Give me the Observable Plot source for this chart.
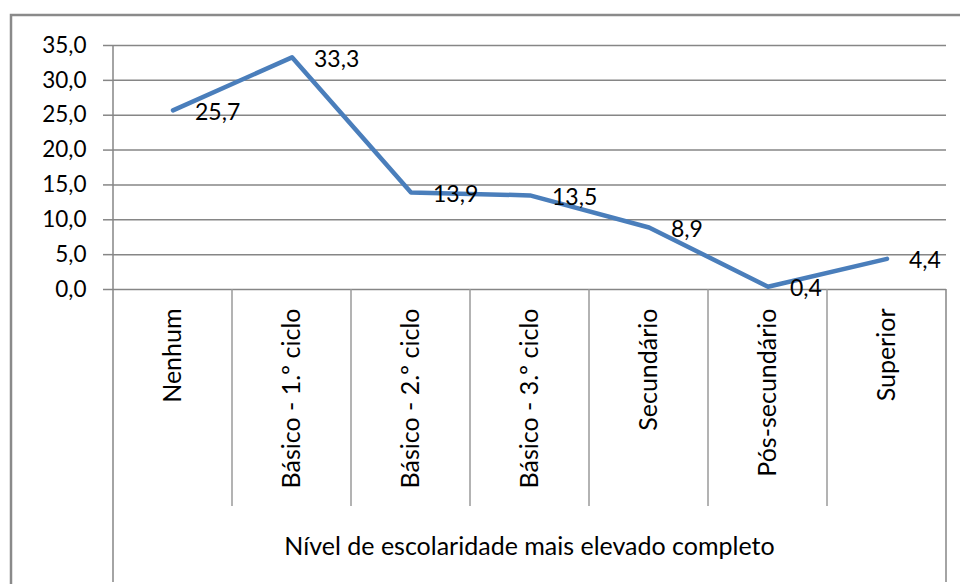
<!DOCTYPE html>
<html><head><meta charset="utf-8">
<script src="https://cdn.jsdelivr.net/npm/d3@7"></script>
<script src="https://cdn.jsdelivr.net/npm/@observablehq/plot@0.6"></script>
<style>
html,body{margin:0;padding:0;background:#fff;}
#chart{width:960px;height:584px;overflow:hidden;position:relative}
</style></head><body><div id="chart"></div>
<script>
const categories = ["Nenhum","Básico - 1.º ciclo","Básico - 2.º ciclo","Básico - 3.º ciclo","Secundário","Pós-secundário","Superior"];
const values = [25.7,33.3,13.9,13.5,8.9,0.4,4.4];
const yTicks = [0,5,10,15,20,25,30,35];
const xTitle = "Nível de escolaridade mais elevado completo";

const data = categories.map((c,i)=>({c, v: values[i]}));
const fmt = v => v.toFixed(1).replace(".", ",");
const FONT = "Lato, sans-serif";
const GRID = "#868686";
const WORD_SIZE = 25, NUM_SIZE = 23;

const chart = Plot.plot({
  width:960, height:584,
  marginLeft:113, marginRight:14, marginTop:45, marginBottom:295,
  style:{fontFamily:FONT, fontSize:NUM_SIZE+"px", color:"#000", background:"#fff", overflow:"visible"},
  x:{type:"band", domain:categories, padding:0, label:null},
  y:{domain:[0,35], label:null},
  marks:[
    Plot.gridY(yTicks, {stroke:GRID, strokeOpacity:1, strokeWidth:1.5}),
    Plot.axisY(yTicks, {tickSize:10, tickPadding:17, tickFormat:fmt, stroke:GRID, strokeWidth:1.5, fill:"#000", fontSize:NUM_SIZE - 0.5, label:null}),
    Plot.axisX({tickSize:0, tickRotate:-90, tickPadding:19, fill:"#000", fontSize:WORD_SIZE, label:null}),
    Plot.line(data, {x:"c", y:"v", stroke:"#4A7EBB", strokeWidth:4.5}),
    Plot.text(data, {x:"c", y:"v", text:d=>fmt(d.v), textAnchor:"start", dx:22, dy:2, fill:"#000", fontSize:NUM_SIZE})
  ]
});

const svg = d3.select(chart);
const xs = chart.scale("x");
const [r0, r1] = xs.range;
const step = (r1 - r0) / categories.length;
const ys = chart.scale("y");
const y0 = ys.apply(0), yTop = ys.apply(35);
const sepBottom = 506, boxBottom = 582;
const g = svg.append("g").attr("stroke", GRID).attr("stroke-width", 1.5);
g.append("line").attr("x1", r0).attr("x2", r0).attr("y1", yTop).attr("y2", boxBottom);
for (let i = 1; i < categories.length; i++) {
  const x = r0 + step * i;
  g.append("line").attr("x1", x).attr("x2", x).attr("y1", y0).attr("y2", sepBottom).attr("stroke","#9a9a9a");
}
g.append("line").attr("x1", r1).attr("x2", r1).attr("y1", y0).attr("y2", boxBottom);
svg.append("text").attr("x", (r0 + r1) / 2).attr("y", 549).attr("text-anchor", "middle")
  .attr("dominant-baseline","middle").attr("font-family", FONT).attr("font-size", WORD_SIZE).attr("fill", "#000").text(xTitle);
svg.append("rect").attr("x", 11).attr("y", 15).attr("width", 960).attr("height", 600)
  .attr("fill", "none").attr("stroke", "#8a8a8a").attr("stroke-width", 2.5);

document.getElementById("chart").appendChild(chart);
</script></body></html>
